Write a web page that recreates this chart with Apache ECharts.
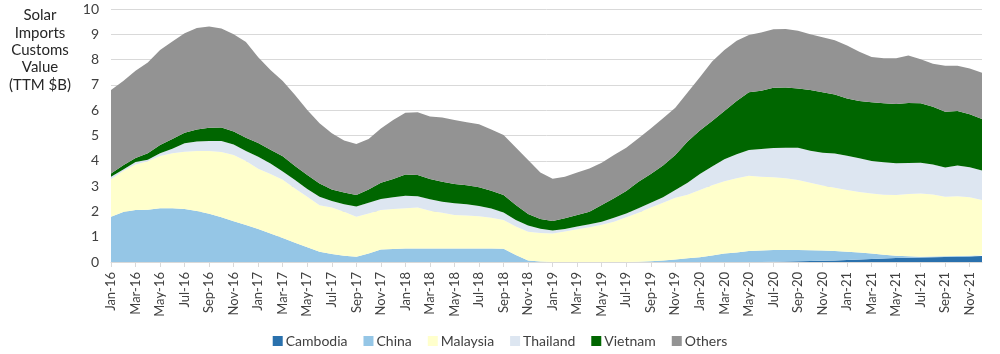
<!DOCTYPE html>
<html>
<head>
<meta charset="utf-8">
<script src="https://cdn.jsdelivr.net/npm/echarts@6/dist/echarts.min.js"></script>
<style>
html,body{margin:0;padding:0;background:#fff;}
#chart{width:1000px;height:354px;}
</style>
</head>
<body>
<div id="chart"></div>
<script>
const months = [
 'Jan-16','Feb-16','Mar-16','Apr-16','May-16','Jun-16','Jul-16','Aug-16','Sep-16','Oct-16','Nov-16','Dec-16',
 'Jan-17','Feb-17','Mar-17','Apr-17','May-17','Jun-17','Jul-17','Aug-17','Sep-17','Oct-17','Nov-17','Dec-17',
 'Jan-18','Feb-18','Mar-18','Apr-18','May-18','Jun-18','Jul-18','Aug-18','Sep-18','Oct-18','Nov-18','Dec-18',
 'Jan-19','Feb-19','Mar-19','Apr-19','May-19','Jun-19','Jul-19','Aug-19','Sep-19','Oct-19','Nov-19','Dec-19',
 'Jan-20','Feb-20','Mar-20','Apr-20','May-20','Jun-20','Jul-20','Aug-20','Sep-20','Oct-20','Nov-20','Dec-20',
 'Jan-21','Feb-21','Mar-21','Apr-21','May-21','Jun-21','Jul-21','Aug-21','Sep-21','Oct-21','Nov-21','Dec-21'
];

const cambodia = [
 0,0,0,0,0,0,0,0,0,0,0,0,
 0,0,0,0,0,0,0,0,0,0,0,0,
 0,0,0,0,0,0,0,0,0,0,0,0,
 0,0,0,0,0,0,0,0,0,0,0,0,
 0,0,0,0,0,0,0.01,0.02,0.03,0.04,0.05,0.06,
 0.08,0.10,0.12,0.14,0.16,0.17,0.18,0.19,0.20,0.21,0.22,0.24
];
const china = [
 1.79,1.98,2.06,2.07,2.12,2.12,2.09,2.02,1.91,1.77,1.61,1.46,
 1.30,1.13,0.95,0.76,0.58,0.41,0.32,0.25,0.21,0.34,0.49,0.51,
 0.53,0.53,0.53,0.53,0.53,0.53,0.53,0.53,0.52,0.28,0.06,0.02,
 0,0,0,0,0,0,0,0.01,0.03,0.06,0.10,0.15,
 0.19,0.26,0.34,0.38,0.43,0.45,0.46,0.45,0.44,0.42,0.40,0.37,
 0.33,0.28,0.22,0.15,0.09,0.06,0.03,0.03,0.03,0.03,0.03,0.03
];
const malaysia = [
 1.48,1.62,1.79,1.91,2.07,2.18,2.27,2.37,2.48,2.58,2.62,2.53,
 2.39,2.35,2.30,2.15,2.00,1.83,1.83,1.74,1.58,1.58,1.57,1.58,
 1.59,1.62,1.50,1.42,1.33,1.31,1.28,1.22,1.14,1.12,1.14,1.13,
 1.13,1.21,1.29,1.37,1.47,1.59,1.77,1.94,2.12,2.28,2.44,2.51,
 2.66,2.77,2.85,2.93,2.98,2.92,2.88,2.84,2.77,2.67,2.57,2.50,
 2.44,2.39,2.37,2.37,2.40,2.46,2.50,2.45,2.35,2.36,2.31,2.18
];
const thailand = [
 0.10,0.06,0.10,0.06,0.11,0.18,0.33,0.37,0.39,0.43,0.41,0.40,
 0.47,0.41,0.33,0.33,0.31,0.34,0.26,0.29,0.40,0.42,0.43,0.47,
 0.50,0.45,0.45,0.43,0.46,0.44,0.40,0.36,0.30,0.26,0.24,0.16,
 0.12,0.09,0.11,0.12,0.12,0.16,0.15,0.17,0.19,0.22,0.31,0.47,
 0.63,0.74,0.87,0.95,1.02,1.10,1.16,1.21,1.28,1.27,1.30,1.36,
 1.35,1.33,1.28,1.28,1.25,1.22,1.21,1.18,1.16,1.21,1.19,1.17
];
const vietnam = [
 0.13,0.16,0.16,0.26,0.32,0.38,0.42,0.48,0.53,0.54,0.52,0.52,
 0.54,0.55,0.60,0.55,0.55,0.52,0.46,0.47,0.46,0.53,0.64,0.72,
 0.84,0.84,0.80,0.79,0.76,0.75,0.74,0.71,0.69,0.59,0.46,0.39,
 0.37,0.43,0.46,0.50,0.66,0.77,0.89,1.05,1.14,1.25,1.38,1.63,
 1.72,1.80,1.91,2.10,2.28,2.30,2.38,2.38,2.34,2.40,2.39,2.33,
 2.26,2.26,2.32,2.33,2.35,2.37,2.35,2.29,2.20,2.16,2.09,2.03
];
const others = [
 3.30,3.33,3.45,3.59,3.76,3.86,3.93,4.01,4.00,3.91,3.84,3.79,
 3.39,3.15,2.97,2.81,2.57,2.38,2.22,2.05,2.01,1.99,2.15,2.33,
 2.44,2.48,2.47,2.54,2.53,2.49,2.49,2.42,2.37,2.28,2.13,1.84,
 1.67,1.64,1.68,1.71,1.67,1.71,1.71,1.72,1.80,1.87,1.87,1.94,
 2.10,2.35,2.41,2.39,2.26,2.30,2.31,2.31,2.28,2.20,2.17,2.14,
 2.10,1.95,1.79,1.78,1.80,1.88,1.74,1.70,1.82,1.79,1.81,1.83
];

const seriesNames = ['Cambodia','China','Malaysia','Thailand','Vietnam','Others'];
const seriesColors = ['#2a71ad','#95c6e6','#ffffcc','#dde6f1','#006600','#939393'];
const seriesData = [cambodia, china, malaysia, thailand, vietnam, others];

const chart = echarts.init(document.getElementById('chart'), null, {renderer:'canvas'});
const font = 'Lato, "Open Sans", sans-serif';

chart.setOption({
  animation: false,
  backgroundColor: '#ffffff',
  title: {
    text: 'Solar\nImports\nCustoms\nValue\n(TTM $B)',
    left: 35, top: 2, textAlign: 'center',
    textStyle: {fontFamily: font, fontSize: 15, fontWeight: 'normal', color: '#262626', lineHeight: 17.3}
  },
  legend: {
    top: 329, left: 'center',
    icon: 'rect', itemWidth: 10, itemHeight: 10, itemGap: 16,
    textStyle: {fontFamily: font, fontSize: 14, color: '#404040', padding: [0, 0, 0, -2]},
    data: seriesNames
  },
  grid: {left: 111, right: 18, top: 9, bottom: 92, containLabel: false},
  xAxis: {
    type: 'category', data: months, boundaryGap: false,
    axisLine: {lineStyle: {color: '#d9d9d9'}},
    axisTick: {show: true, interval: 1, length: 5, lineStyle: {color: '#d9d9d9'}},
    axisLabel: {interval: 1, rotate: 90, fontFamily: font, fontSize: 13, color: '#404040', margin: 10}
  },
  yAxis: {
    type: 'value', min: 0, max: 10, interval: 1,
    axisLine: {show: false}, axisTick: {show: false},
    splitLine: {lineStyle: {color: '#d9d9d9', width: 1}},
    axisLabel: {fontFamily: font, fontSize: 14, color: '#404040', margin: 12}
  },
  series: seriesNames.map((n, k) => ({
    name: n, type: 'line', stack: 'total', data: seriesData[k],
    symbol: 'none', showSymbol: false,
    lineStyle: {width: 0},
    itemStyle: {color: seriesColors[k]},
    areaStyle: {color: seriesColors[k], opacity: 1},
    emphasis: {disabled: true}
  }))
});
</script>
</body>
</html>
